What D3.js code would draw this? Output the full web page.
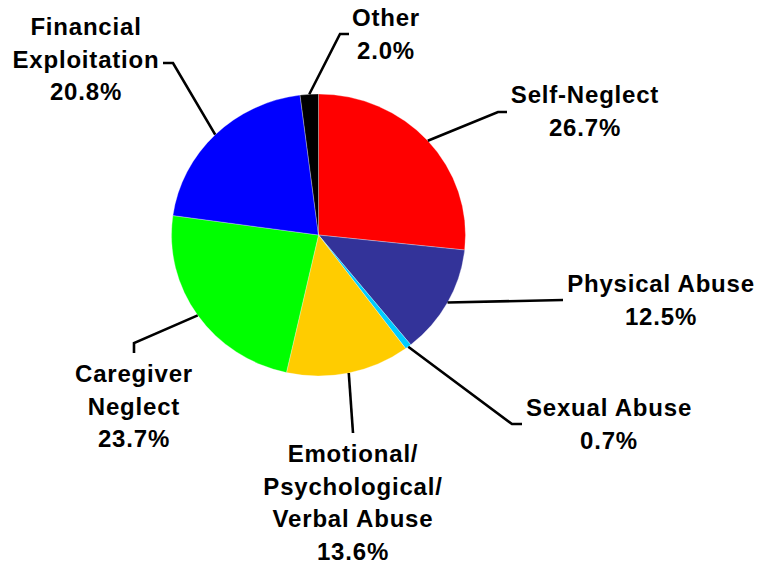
<!DOCTYPE html>
<html>
<head>
<meta charset="utf-8">
<script src="https://cdn.jsdelivr.net/npm/d3@7"></script>
<style>
  body { margin: 0; background: #fff; }
  text { font-family: "Liberation Sans", Arial, sans-serif; font-weight: bold; font-size: 24px; letter-spacing: 0.8px; fill: #000; }
</style>
</head>
<body>
<svg id="chart" width="762" height="567"></svg>
<script>
// abuse categories, clockwise from 12 o'clock
const categories = ["Self-Neglect", "Physical Abuse", "Sexual Abuse",
                    "Emotional/Psychological/Verbal Abuse", "Caregiver Neglect",
                    "Financial Exploitation", "Other"];
const percents = [26.7, 12.5, 0.7, 13.6, 23.7, 20.8, 2.0];
// how each label is broken over lines
const labelLines = [["Self-Neglect"], ["Physical Abuse"], ["Sexual Abuse"],
                    ["Emotional/", "Psychological/", "Verbal Abuse"],
                    ["Caregiver", "Neglect"], ["Financial", "Exploitation"], ["Other"]];

const svg = d3.select("#chart");
const cx = 318.5, cy = 235, rx = 147, ry = 141;
const lineH = 32.5;

const color = d3.scaleOrdinal()
    .domain(categories)
    .range(["#ff0000", "#333399", "#00ccff", "#ffcc00", "#00ff00", "#0000ff", "#000000"]);

const data = categories.map((c, i) => ({name: c, value: percents[i], lines: labelLines[i]}));

const pie = d3.pie().sort(null).value(d => d.value);
const arcs = pie(data);
const arc = d3.arc().innerRadius(0).outerRadius(rx);

// pie is a touch wider than tall in the original
const g = svg.append("g")
    .attr("transform", `translate(${cx},${cy}) scale(1,${ry / rx})`);

g.selectAll("path")
  .data(arcs)
  .join("path")
    .attr("d", arc)
    .attr("fill", d => color(d.data.name))
    .attr("stroke", "#fff")
    .attr("stroke-opacity", 0.5)
    .attr("stroke-width", 0.6);

// label placement: elbow, end of leader, text centre and first baseline
const layout = {
  "Self-Neglect":   {elbow: [498, 112], end: [507, 112], x: 585, y: 103},
  "Physical Abuse": {elbow: null, end: [563, 300], x: 661, y: 292},
  "Sexual Abuse":   {elbow: [512, 424], end: [522, 424], x: 609, y: 416},
  "Emotional/Psychological/Verbal Abuse": {elbow: null, end: [353, 433], x: 353, y: 462},
  "Caregiver Neglect": {elbow: [134, 343], end: [134, 353], x: 134, y: 382},
  "Financial Exploitation": {elbow: [173, 63], end: [163, 63], x: 86, y: 35},
  "Other":          {elbow: [340, 34], end: [349, 34], x: 386, y: 26}
};

const fmt = d3.format(".1f");

arcs.forEach(a => {
  const L = layout[a.data.name];
  const mid = (a.startAngle + a.endAngle) / 2;
  const start = [cx + rx * Math.sin(mid), cy - ry * Math.cos(mid)];
  const pts = [start];
  if (L.elbow) pts.push(L.elbow);
  pts.push(L.end);

  svg.append("path")
    .attr("d", d3.line()(pts))
    .attr("fill", "none")
    .attr("stroke", "#000")
    .attr("stroke-width", 2.6);

  const t = svg.append("text")
    .attr("text-anchor", "middle")
    .attr("x", L.x)
    .attr("y", L.y);
  const lines = a.data.lines.concat([fmt(a.data.value) + "%"]);
  lines.forEach((s, i) => {
    t.append("tspan")
      .attr("x", L.x)
      .attr("dy", i === 0 ? 0 : lineH)
      .text(s);
  });
});
</script>
</body>
</html>
